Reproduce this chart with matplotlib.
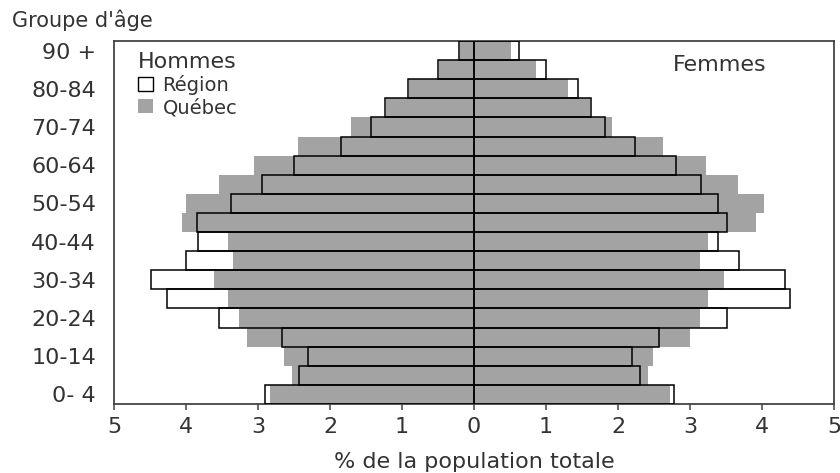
import numpy as np
import matplotlib.pyplot as plt
from matplotlib.patches import Patch

plt.rcParams['font.family'] = ['DejaVu Sans']

# groupes d'age, du bas (0-4) vers le haut (90 +)
groupes = ["0- 4", "5-9", "10-14", "15-19", "20-24", "25-29", "30-34", "35-39",
           "40-44", "45-49", "50-54", "55-59", "60-64", "65-69", "70-74",
           "75-79", "80-84", "85-89", "90 +"]

hommes_region = [2.90, 2.43, 2.30, 2.66, 3.54, 4.27, 4.49, 4.00, 3.83, 3.85,
                 3.38, 2.94, 2.50, 1.85, 1.43, 1.24, 0.92, 0.50, 0.21]
hommes_quebec = [2.84, 2.53, 2.64, 3.15, 3.26, 3.41, 3.61, 3.35, 3.41, 4.06,
                 4.00, 3.54, 3.06, 2.44, 1.71, 1.22, 0.90, 0.48, 0.20]
femmes_region = [2.78, 2.31, 2.20, 2.57, 3.51, 4.39, 4.32, 3.68, 3.39, 3.51,
                 3.39, 3.15, 2.80, 2.24, 1.82, 1.62, 1.44, 1.00, 0.63]
femmes_quebec = [2.72, 2.41, 2.49, 3.00, 3.14, 3.25, 3.47, 3.14, 3.25, 3.92,
                 4.03, 3.67, 3.22, 2.63, 1.92, 1.61, 1.30, 0.86, 0.52]

gris = '#a3a3a3'
texte = '#333333'

fig = plt.figure(figsize=(8.4, 4.73), dpi=100)
ax = fig.add_axes([114/840, 1 - 404/473, 720/840, 363/473])

y = np.arange(len(groupes))
hr = -np.array(hommes_region)
hq = -np.array(hommes_quebec)

# region: fond blanc, puis quebec gris, puis contour de la region
ax.barh(y, hr, height=1.0, color='white', edgecolor='none', zorder=1)
ax.barh(y, femmes_region, height=1.0, color='white', edgecolor='none', zorder=1)
ax.barh(y, hq, height=1.0, color=gris, edgecolor='none', zorder=2)
ax.barh(y, femmes_quebec, height=1.0, color=gris, edgecolor='none', zorder=2)
ax.barh(y, hr, height=1.0, fill=False, edgecolor='black', linewidth=1.1, zorder=3)
ax.barh(y, femmes_region, height=1.0, fill=False, edgecolor='black', linewidth=1.1, zorder=3)

ax.set_xlim(-5, 5)
ax.set_ylim(-0.5, len(groupes) - 0.5)

ticks = np.arange(-5, 6)
ax.set_xticks(ticks)
ax.set_xticklabels([str(abs(t)) for t in ticks])
ax.set_yticks(y[::2])
ax.set_yticklabels(groupes[::2])
ax.tick_params(axis='x', direction='out', length=4, width=1.1, color='#444444',
               labelsize=16, labelcolor=texte, pad=5)
ax.tick_params(axis='y', length=0, labelsize=16, labelcolor=texte, pad=13)
for s in ax.spines.values():
    s.set_color('#444444')
    s.set_linewidth(1.3)

ax.set_xlabel("% de la population totale", fontsize=16, color=texte, labelpad=11)
fig.text(12/840, 1 - 27/473, "Groupe d'âge", fontsize=15, color=texte,
         ha='left', va='baseline')

ax.text(0.776, 0.935, "Femmes", transform=ax.transAxes, fontsize=16,
        color=texte, va='center', ha='left')

poignees = [Patch(facecolor='white', edgecolor='black', linewidth=1.0),
            Patch(facecolor=gris, edgecolor='none')]
leg = ax.legend(poignees, ["Région", "Québec"], title="Hommes", loc='upper left',
                bbox_to_anchor=(0.012, 1.012), frameon=False, fontsize=14,
                title_fontsize=16, alignment='left', handlelength=0.75,
                handleheight=0.75, handletextpad=0.5, labelspacing=0.15,
                borderpad=0.3)
for t in leg.get_texts():
    t.set_color(texte)
leg.get_title().set_color(texte)

fig.savefig('out.png', dpi=100)
